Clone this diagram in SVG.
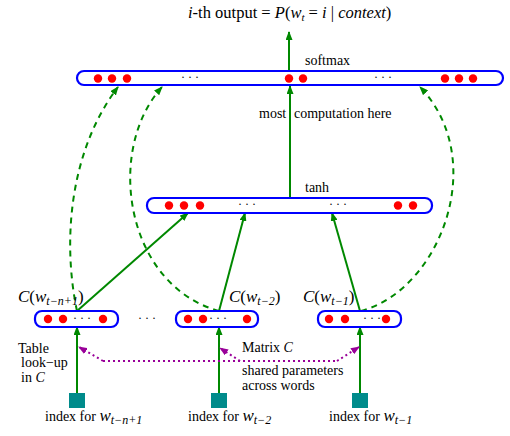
<svg xmlns="http://www.w3.org/2000/svg" width="510" height="436" viewBox="0 0 510 436">
<style>
.box{fill:#fff;stroke:#0000ff;stroke-width:2.2}
.dot{fill:#ff0000}
.sq{fill:#008b8b}
.g{stroke:#008800;stroke-width:2;fill:none}
.gd{stroke:#008800;stroke-width:2;fill:none;stroke-dasharray:6,5}
.p{stroke:#990099;stroke-width:2;fill:none;stroke-dasharray:2,3}
text{font-family:"Liberation Serif","Times New Roman",serif;font-size:14px;fill:#000}
.it{font-style:italic}
.sub{font-style:italic;font-size:12px}
.ell{font-size:12px;text-anchor:middle}
</style>
<defs>
<marker id="ag" markerWidth="9" markerHeight="7" refX="8" refY="3.5" orient="auto" markerUnits="userSpaceOnUse">
<path d="M0,0 L9,3.5 L0,7 z" fill="#008800"/>
</marker>
<marker id="ap" markerWidth="9" markerHeight="7" refX="8" refY="3.5" orient="auto" markerUnits="userSpaceOnUse">
<path d="M0,0 L9,3.5 L0,7 z" fill="#990099"/>
</marker>
</defs>

<text id="title" x="188" y="18" style="font-size:16.5px"><tspan class="it">i</tspan>-th output = <tspan class="it">P</tspan>(<tspan class="it">w</tspan><tspan class="it" style="font-size:11px" dy="3">t</tspan><tspan dy="-3"> = </tspan><tspan class="it">i</tspan> | <tspan class="it">context</tspan>)</text>

<g id="connectors">
<line class="g" x1="289" y1="71" x2="289" y2="32" marker-end="url(#ag)"/>
<line class="g" x1="290" y1="198" x2="290" y2="86" marker-end="url(#ag)"/>
<line class="g" x1="77" y1="311" x2="188" y2="213" marker-end="url(#ag)"/>
<line class="g" x1="219" y1="311" x2="245" y2="213" marker-end="url(#ag)"/>
<line class="g" x1="360" y1="311" x2="332" y2="213" marker-end="url(#ag)"/>
<line class="g" x1="77" y1="393" x2="77" y2="327" marker-end="url(#ag)"/>
<line class="g" x1="219" y1="393" x2="219" y2="327" marker-end="url(#ag)"/>
<line class="g" x1="360" y1="393" x2="360" y2="327" marker-end="url(#ag)"/>
<path class="gd" d="M77,311 C62,240 70,150 118,87" marker-end="url(#ag)"/>
<path class="gd" d="M219,311 C125,285 105,150 162,87" marker-end="url(#ag)"/>
<path class="gd" d="M361,311 C440,290 490,160 420,87" marker-end="url(#ag)"/>
<path class="p" d="M103,361 L337,361"/>
<path class="p" d="M103,361 L79,347" marker-end="url(#ap)"/>
<path class="p" d="M240,361 L220,348" marker-end="url(#ap)"/>
<path class="p" d="M337,361 L359,347" marker-end="url(#ap)"/>
</g>

<g id="softmax-layer">
<rect class="box" x="77" y="71" width="426" height="14" rx="7"/>
<circle class="dot" cx="98" cy="78.5" r="4.2"/>
<circle class="dot" cx="112" cy="78.5" r="4.2"/>
<circle class="dot" cx="127" cy="78.5" r="4.2"/>
<text class="ell" x="190" y="81">· · ·</text>
<circle class="dot" cx="289" cy="78.5" r="4.2"/>
<circle class="dot" cx="303" cy="78.5" r="4.2"/>
<text class="ell" x="383" y="81">· · ·</text>
<circle class="dot" cx="445" cy="78.5" r="4.2"/>
<circle class="dot" cx="459" cy="78.5" r="4.2"/>
<circle class="dot" cx="473" cy="78.5" r="4.2"/>
<text x="305" y="65">softmax</text>
</g>

<g id="computation-label">
<text x="259" y="118">most</text>
<text x="294" y="118">computation here</text>
</g>

<g id="tanh-layer">
<rect class="box" x="147" y="198" width="285" height="15" rx="7"/>
<circle class="dot" cx="169" cy="205.5" r="4.2"/>
<circle class="dot" cx="184" cy="205.5" r="4.2"/>
<circle class="dot" cx="200" cy="205.5" r="4.2"/>
<text class="ell" x="247" y="208">· · ·</text>
<text class="ell" x="338" y="208">· · ·</text>
<circle class="dot" cx="398" cy="205.5" r="4.2"/>
<circle class="dot" cx="413" cy="205.5" r="4.2"/>
<text x="305" y="192">tanh</text>
</g>

<g id="embed-1">
<rect class="box" x="35" y="311" width="83" height="16" rx="7"/>
<circle class="dot" cx="48" cy="319" r="4.2"/>
<circle class="dot" cx="63" cy="319" r="4.2"/>
<text class="ell" x="82" y="322">· · ·</text>
<circle class="dot" cx="103" cy="319" r="4.2"/>
<text x="18" y="302" style="font-size:17px"><tspan class="it">C</tspan>(<tspan class="it">w</tspan><tspan class="sub" dy="3">t−n+1</tspan><tspan dy="-3">)</tspan></text>
</g>

<text class="ell" x="147" y="322">· · ·</text>

<g id="embed-2">
<rect class="box" x="176" y="311" width="82" height="16" rx="7"/>
<circle class="dot" cx="188" cy="319" r="4.2"/>
<circle class="dot" cx="203" cy="319" r="4.2"/>
<text class="ell" x="218" y="322">· · ·</text>
<circle class="dot" cx="247" cy="319" r="4.2"/>
<text x="229" y="302" style="font-size:17px"><tspan class="it">C</tspan>(<tspan class="it">w</tspan><tspan class="sub" dy="3">t−2</tspan><tspan dy="-3">)</tspan></text>
</g>

<g id="embed-3">
<rect class="box" x="318" y="311" width="83" height="16" rx="7"/>
<circle class="dot" cx="329" cy="319" r="4.2"/>
<circle class="dot" cx="345" cy="319" r="4.2"/>
<text class="ell" x="372" y="322">· · ·</text>
<circle class="dot" cx="386" cy="319" r="4.2"/>
<text x="303" y="302" style="font-size:17px"><tspan class="it">C</tspan>(<tspan class="it">w</tspan><tspan class="sub" dy="3">t−1</tspan><tspan dy="-3">)</tspan></text>
</g>

<g id="index-1">
<rect class="sq" x="69" y="393" width="16" height="15"/>
<text x="45" y="421">index for <tspan class="it" style="font-size:17px">w</tspan><tspan class="sub" dy="3">t−n+1</tspan></text>
</g>
<g id="index-2">
<rect class="sq" x="211" y="393" width="16" height="15"/>
<text x="188" y="421">index for <tspan class="it" style="font-size:17px">w</tspan><tspan class="sub" dy="3">t−2</tspan></text>
</g>
<g id="index-3">
<rect class="sq" x="352" y="393" width="16" height="15"/>
<text x="329" y="421">index for <tspan class="it" style="font-size:17px">w</tspan><tspan class="sub" dy="3">t−1</tspan></text>
</g>

<g id="table-lookup">
<text x="18" y="353">Table</text>
<text x="21" y="367">look−up</text>
<text x="21" y="382">in <tspan class="it">C</tspan></text>
</g>

<g id="matrix-label">
<text x="242" y="352">Matrix <tspan class="it">C</tspan></text>
<text x="242" y="375">shared parameters</text>
<text x="242" y="390">across words</text>
</g>
</svg>
